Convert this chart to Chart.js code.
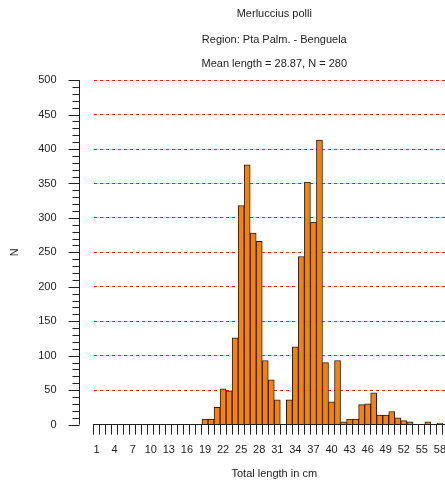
<!DOCTYPE html>
<html>
<head>
<meta charset="utf-8">
<title>Merluccius polli</title>
<script src="https://cdn.jsdelivr.net/npm/chart.js@4"></script>
<style>
  body { margin: 0; background: #fff; overflow: hidden; }
  #wrap { width: 445px; height: 483px; overflow: hidden; }
</style>
</head>
<body>
<div id="wrap">
  <canvas id="my-chart" width="470" height="483"></canvas>
</div>
<script>
'use strict';

// ******* GLOBAL VARIABLES *******
let lengthClasses = [];
for (let i = 1; i <= 60; i++) {
  lengthClasses.push(String(i));
}

let lengthCounts = [
  0, 0, 0, 0, 0, 0, 0, 0, 0, 0,
  0, 0, 0, 0, 0, 0, 0, 0, 8, 8,
  25, 52, 49, 126, 318, 377, 278, 266, 93, 65,
  36, 0, 36, 113, 244, 352, 294, 413, 90, 33,
  93, 4, 8, 8, 29, 30, 46, 14, 14, 19,
  10, 6, 4, 0, 0, 4, 0, 2, 0, 0
];

let yTickValues = [0, 50, 100, 150, 200, 250, 300, 350, 400, 450, 500];

let titleText = 'Merluccius polli';
let subtitleLines = ['Region: Pta Palm. - Benguela', 'Mean length = 28.87, N = 280'];

const FONT = 'Liberation Sans, Arial, sans-serif';
const INK = '#222222';

// ******* DOM REFERENCES *********
let canvasElem = document.getElementById('my-chart').getContext('2d');

// ****** HELPER: detached y axis with major/minor ticks ******
let yAxisPlugin = {
  id: 'yAxisLine',
  afterDraw(chart) {
    let ctx = chart.ctx;
    let yScale = chart.scales.y;
    let x = Math.round(chart.chartArea.left - 15) + 0.5;
    let top = yScale.getPixelForValue(yScale.max);
    let bottom = yScale.getPixelForValue(yScale.min);

    ctx.save();
    ctx.strokeStyle = INK;
    ctx.lineWidth = 1;
    ctx.beginPath();
    ctx.moveTo(x, top);
    ctx.lineTo(x, bottom);
    for (let v = yScale.min; v <= yScale.max; v += 10) {
      let y = Math.round(yScale.getPixelForValue(v)) + 0.5;
      let len = (v % 50 === 0) ? 11 : 7;
      ctx.moveTo(x - len, y);
      ctx.lineTo(x, y);
    }
    ctx.stroke();
    ctx.restore();
  }
};

// ******** CHART *******
function renderChart() {
  let myChartObj = {
    type: 'bar',
    data: {
      labels: lengthClasses,
      datasets: [{
        data: lengthCounts,
        backgroundColor: '#ff8000',
        borderColor: '#1e1e1e',
        borderWidth: 1,
        categoryPercentage: 1,
        barPercentage: 1
      }]
    },
    options: {
      responsive: false,
      animation: false,
      layout: {
        padding: { left: 7, right: 15, top: 0, bottom: 0 }
      },
      plugins: {
        legend: { display: false },
        tooltip: { enabled: false },
        title: {
          display: true,
          fullSize: false,
          text: titleText,
          color: INK,
          font: { family: FONT, size: 11, weight: 'normal' },
          padding: { top: 7, bottom: 8 }
        },
        subtitle: {
          display: true,
          fullSize: false,
          text: subtitleLines,
          color: INK,
          font: { family: FONT, size: 11, weight: 'normal', lineHeight: 2.18 },
          padding: { top: 0, bottom: 4 }
        }
      },
      scales: {
        x: {
          offset: true,
          grid: {
            offset: true,
            drawOnChartArea: false,
            color: INK,
            tickLength: 10
          },
          border: { display: true, color: INK, width: 1 },
          ticks: {
            autoSkip: false,
            maxRotation: 0,
            padding: 9,
            color: INK,
            font: { family: FONT, size: 11 },
            callback: function (value, index) {
              return index % 3 === 0 ? lengthClasses[index] : '';
            }
          },
          title: {
            display: true,
            text: 'Total length in cm',
            color: INK,
            font: { family: FONT, size: 11 },
            padding: { top: 2, bottom: 2 }
          }
        },
        y: {
          min: yTickValues[0],
          max: yTickValues[yTickValues.length - 1],
          afterBuildTicks: function (scale) {
            scale.ticks = yTickValues.map(function (v) { return { value: v }; });
          },
          grid: {
            drawTicks: true,
            tickLength: 37,
            tickColor: 'rgba(0,0,0,0)',
            lineWidth: 1,
            color: function (c) {
              return c.tick && c.tick.value === 0 ? 'rgba(0,0,0,0)' : '#ff1a1a';
            }
          },
          border: { display: false, dash: [3, 3] },
          ticks: {
            padding: 0,
            color: INK,
            font: { family: FONT, size: 11 }
          },
          title: {
            display: true,
            text: 'N',
            color: INK,
            font: { family: FONT, size: 11 },
            padding: { top: 1, bottom: 17 }
          }
        }
      }
    },
    plugins: [yAxisPlugin]
  };

  new Chart(canvasElem, myChartObj);
}

// ****** EXECUTABLE CODE ********
renderChart();
</script>
</body>
</html>
